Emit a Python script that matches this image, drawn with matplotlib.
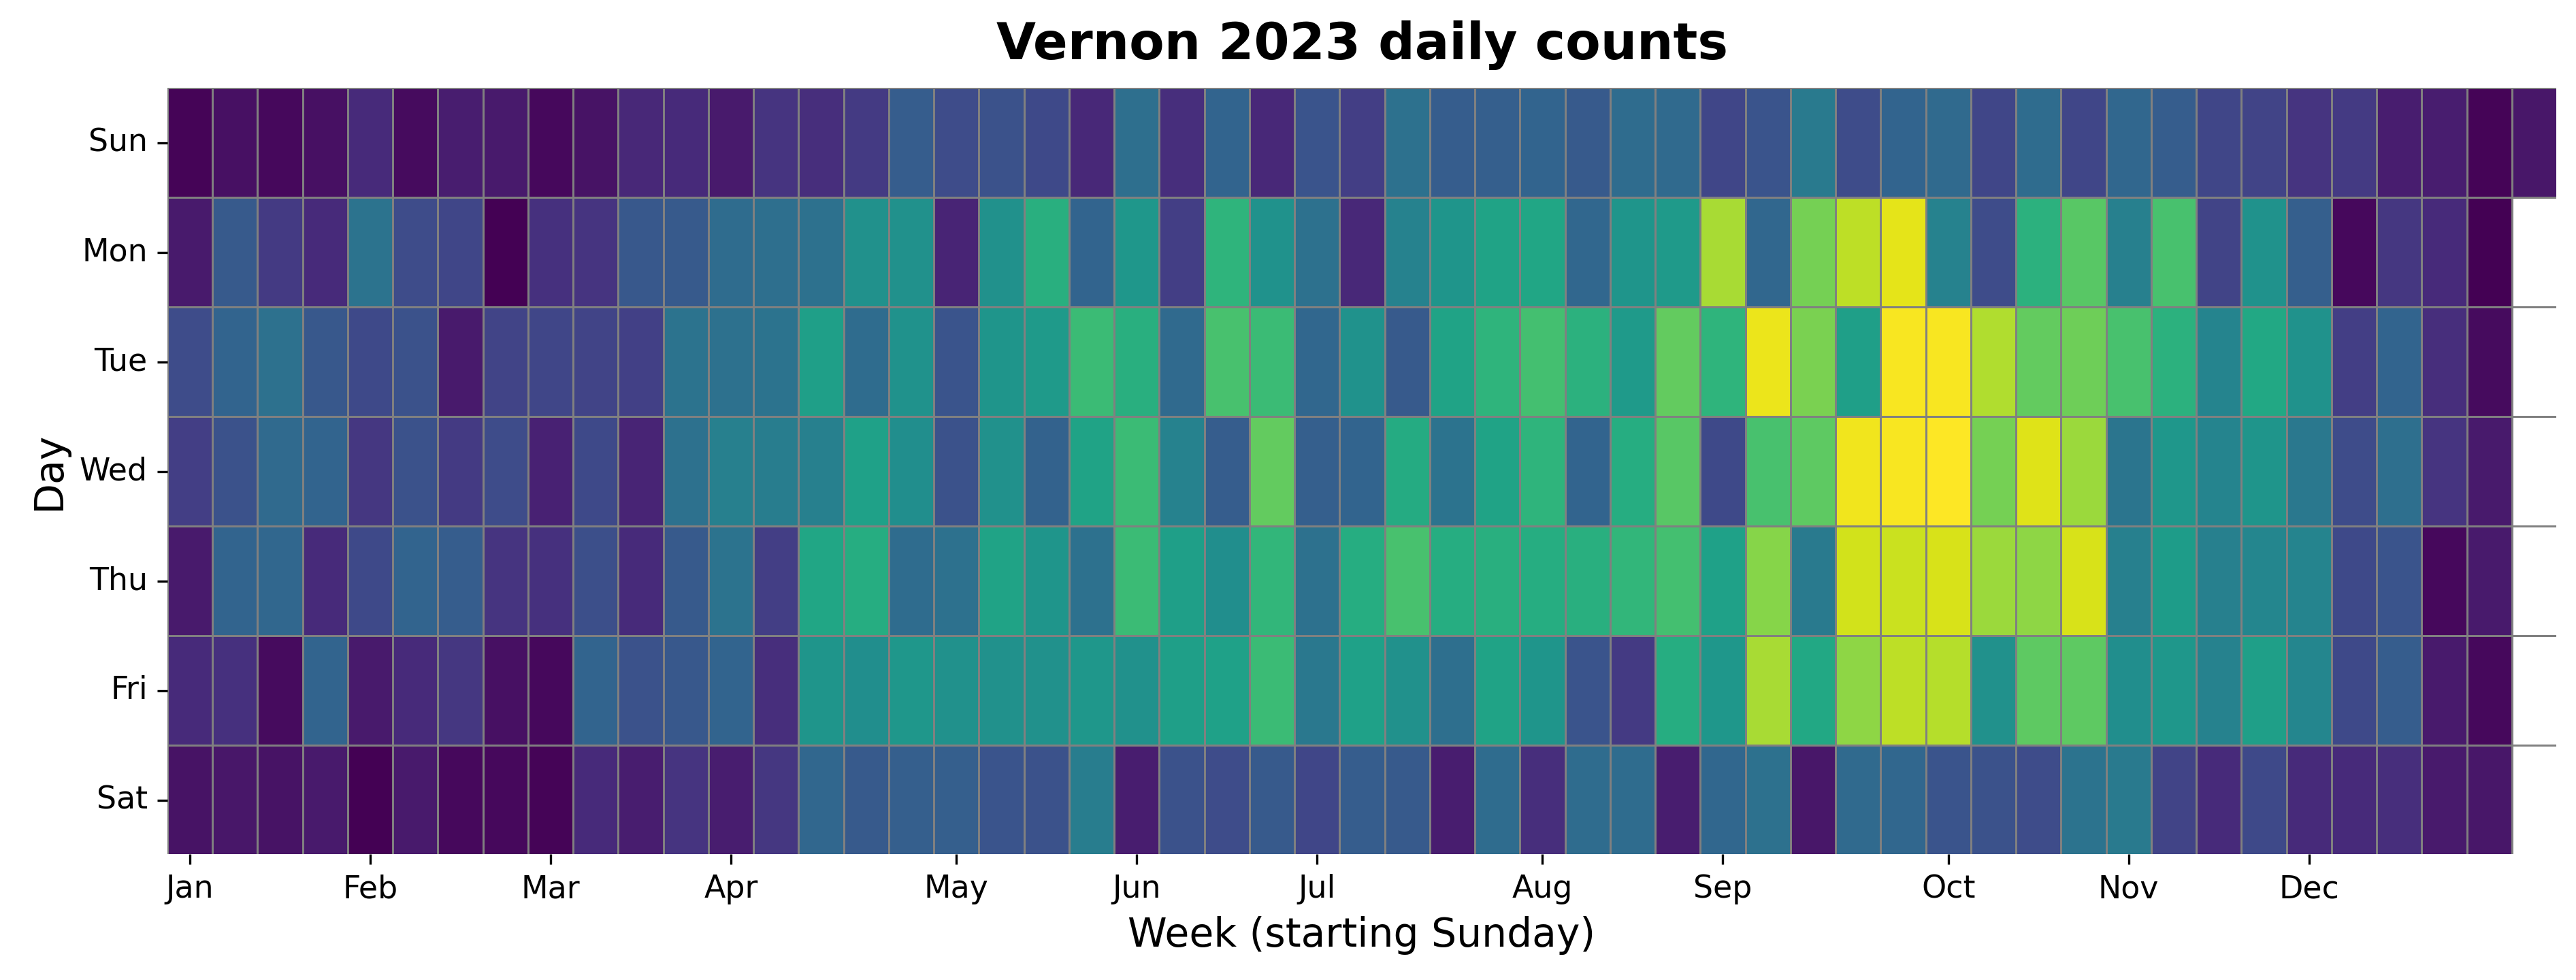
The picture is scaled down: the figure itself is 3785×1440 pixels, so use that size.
import numpy as np
import matplotlib
matplotlib.use("Agg")
import matplotlib.pyplot as plt
import seaborn as sns

days = ["Sun", "Mon", "Tue", "Wed", "Thu", "Fri", "Sat"]
month_labels = ["Jan", "Feb", "Mar", "Apr", "May", "Jun", "Jul", "Aug", "Sep", "Oct", "Nov", "Dec"]
month_start_weeks = [0, 4, 8, 12, 17, 21, 25, 30, 34, 39, 43, 47]

nan = np.nan
sun = [1, 4, 2, 4, 12, 3, 8, 7, 2, 5, 11, 12, 7, 15, 13, 17, 29, 23,
       25, 22, 11, 36, 13, 32, 11, 26, 18, 37, 29, 30, 32, 28, 35, 34, 21, 26,
       41, 23, 32, 34, 21, 35, 21, 33, 29, 21, 20, 15, 17, 8, 8, 1, 6]
mon = [7, 28, 17, 12, 38, 23, 21, 0, 14, 15, 27, 28, 35, 36, 37, 50, 50, 10,
       50, 63, 32, 53, 18, 65, 51, 37, 11, 44, 52, 58, 59, 33, 52, 54, 87, 33,
       79, 90, 96, 44, 23, 64, 74, 43, 71, 20, 51, 30, 2, 16, 12, 0, nan]
tue = [23, 32, 37, 27, 22, 25, 7, 20, 21, 20, 19, 38, 37, 38, 56, 35, 51, 26,
       52, 54, 68, 63, 34, 71, 68, 33, 51, 28, 58, 65, 70, 64, 54, 76, 65, 97,
       80, 56, 99, 99, 88, 76, 78, 71, 64, 45, 60, 51, 18, 32, 13, 3, nan]
wed = [18, 25, 34, 32, 16, 25, 17, 23, 9, 22, 10, 37, 43, 42, 43, 57, 49, 25,
       50, 31, 58, 68, 44, 29, 76, 30, 32, 61, 38, 58, 65, 32, 62, 74, 22, 71,
       75, 98, 99, 100, 79, 95, 85, 39, 53, 45, 52, 40, 23, 36, 15, 7, nan]
thu = [7, 32, 33, 12, 22, 32, 29, 15, 14, 24, 12, 28, 38, 18, 59, 62, 35, 37,
       58, 52, 37, 68, 56, 49, 66, 37, 62, 71, 62, 63, 62, 63, 66, 70, 57, 82,
       41, 93, 92, 94, 85, 83, 94, 43, 55, 43, 46, 45, 22, 26, 2, 7, nan]
fri = [12, 14, 3, 32, 7, 12, 16, 4, 2, 32, 25, 27, 32, 13, 52, 49, 53, 50,
       50, 50, 53, 50, 56, 57, 68, 40, 57, 50, 36, 58, 52, 26, 17, 62, 53, 87,
       60, 83, 90, 89, 50, 75, 75, 49, 53, 44, 56, 46, 22, 29, 7, 2, nan]
sat = [5, 6, 5, 7, 0, 7, 2, 2, 1, 12, 8, 15, 8, 16, 33, 28, 30, 30,
       26, 25, 42, 8, 25, 23, 28, 21, 29, 28, 8, 35, 13, 35, 35, 8, 33, 37,
       6, 34, 33, 26, 25, 23, 38, 41, 20, 12, 22, 12, 12, 13, 7, 6, nan]

data = np.array([sun, mon, tue, wed, thu, fri, sat], dtype=float)
n_rows, n_cols = data.shape

fig = plt.figure(figsize=(3785 / 300, 1440 / 300), dpi=300)
ax = fig.add_axes([246 / 3785, 1 - 1255 / 1440, (3756 - 246) / 3785, (1255 - 129) / 1440])

sns.heatmap(data, ax=ax, cmap="viridis", cbar=False, linewidths=0.3,
            linecolor="gray", xticklabels=False, yticklabels=days)

# clip the outer right/bottom cell edges like the reference
ax.set_xlim(0, n_cols - 0.015)
ax.set_ylim(n_rows - 0.008, 0)

ax.set_xticks([w + 0.5 for w in month_start_weeks])
ax.set_xticklabels(month_labels, rotation=0, fontsize=11)
ax.set_yticks([i + 0.5 for i in range(n_rows)])
ax.set_yticklabels(days, rotation=0, fontsize=11)
ax.tick_params(axis="both", length=3.5, width=0.8, color="black")
ax.set_xlabel("Week (starting Sunday)", fontsize=14)
ax.set_ylabel("Day", fontsize=14)
ax.set_title("Vernon 2023 daily counts", fontsize=18, fontweight="bold", pad=10)

fig.savefig("out.png", dpi=300)
